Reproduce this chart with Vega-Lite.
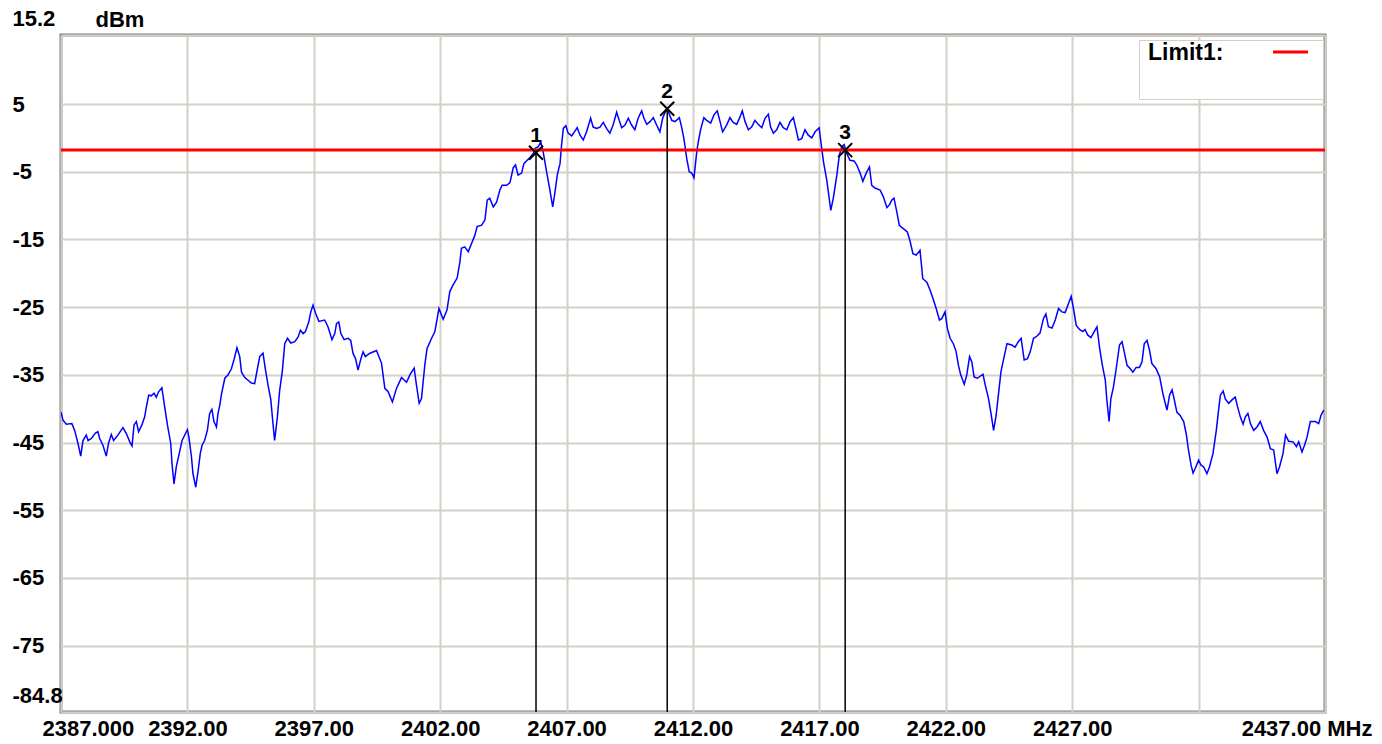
{
  "$schema": "https://vega.github.io/schema/vega-lite/v6.json",
  "width": 1264,
  "height": 677,
  "autosize": {"type": "none"},
  "padding": {"left": 61, "top": 35, "right": 57, "bottom": 32},
  "background": "#ffffff",
  "config": {
    "view": {"stroke": "#808080", "strokeWidth": 3},
    "font": "Liberation Sans"
  },
  "datasets": {
    "trace": [
      {"f":2387.00,"v":-40.5},{"f":2387.08,"v":-41.7},{"f":2387.21,"v":-42.3},{"f":2387.43,"v":-42.2},{"f":2387.54,"v":-43.2},{"f":2387.67,"v":-45.1},{"f":2387.78,"v":-47.0},{"f":2387.87,"v":-44.7},{"f":2388.00,"v":-43.9},{"f":2388.07,"v":-44.7},{"f":2388.20,"v":-44.4},{"f":2388.36,"v":-43.6},{"f":2388.46,"v":-43.4},{"f":2388.53,"v":-44.4},{"f":2388.66,"v":-45.4},{"f":2388.79,"v":-47.0},{"f":2388.88,"v":-45.1},{"f":2388.99,"v":-43.8},{"f":2389.08,"v":-44.7},{"f":2389.25,"v":-43.9},{"f":2389.45,"v":-42.8},{"f":2389.59,"v":-43.7},{"f":2389.72,"v":-44.9},{"f":2389.81,"v":-45.5},{"f":2389.89,"v":-42.4},{"f":2389.98,"v":-41.9},{"f":2390.07,"v":-43.4},{"f":2390.20,"v":-42.4},{"f":2390.31,"v":-41.2},{"f":2390.38,"v":-39.7},{"f":2390.47,"v":-38.0},{"f":2390.57,"v":-38.1},{"f":2390.68,"v":-37.7},{"f":2390.77,"v":-38.3},{"f":2390.86,"v":-37.5},{"f":2390.99,"v":-36.9},{"f":2391.10,"v":-39.7},{"f":2391.21,"v":-42.4},{"f":2391.34,"v":-45.1},{"f":2391.39,"v":-48.1},{"f":2391.47,"v":-51.1},{"f":2391.56,"v":-48.6},{"f":2391.66,"v":-46.9},{"f":2391.79,"v":-44.7},{"f":2391.92,"v":-43.7},{"f":2392.00,"v":-43.1},{"f":2392.06,"v":-44.2},{"f":2392.16,"v":-47.1},{"f":2392.22,"v":-49.6},{"f":2392.33,"v":-51.6},{"f":2392.42,"v":-49.3},{"f":2392.51,"v":-46.6},{"f":2392.58,"v":-45.4},{"f":2392.68,"v":-44.7},{"f":2392.79,"v":-43.2},{"f":2392.88,"v":-40.7},{"f":2392.97,"v":-40.1},{"f":2393.05,"v":-41.9},{"f":2393.15,"v":-42.7},{"f":2393.21,"v":-40.7},{"f":2393.28,"v":-39.5},{"f":2393.35,"v":-37.8},{"f":2393.48,"v":-35.5},{"f":2393.61,"v":-35.0},{"f":2393.74,"v":-34.1},{"f":2393.84,"v":-32.8},{"f":2393.96,"v":-31.0},{"f":2394.07,"v":-32.3},{"f":2394.14,"v":-34.6},{"f":2394.27,"v":-35.4},{"f":2394.40,"v":-35.8},{"f":2394.53,"v":-36.2},{"f":2394.66,"v":-36.3},{"f":2394.77,"v":-34.1},{"f":2394.86,"v":-32.3},{"f":2394.99,"v":-31.8},{"f":2395.09,"v":-34.3},{"f":2395.19,"v":-36.5},{"f":2395.30,"v":-38.7},{"f":2395.39,"v":-42.4},{"f":2395.45,"v":-44.7},{"f":2395.56,"v":-41.2},{"f":2395.65,"v":-37.3},{"f":2395.76,"v":-34.3},{"f":2395.85,"v":-30.4},{"f":2395.96,"v":-29.6},{"f":2396.09,"v":-30.3},{"f":2396.25,"v":-30.1},{"f":2396.38,"v":-29.4},{"f":2396.47,"v":-28.4},{"f":2396.58,"v":-28.9},{"f":2396.67,"v":-28.6},{"f":2396.80,"v":-27.2},{"f":2396.88,"v":-25.7},{"f":2396.97,"v":-24.7},{"f":2397.07,"v":-25.9},{"f":2397.20,"v":-27.1},{"f":2397.43,"v":-26.9},{"f":2397.56,"v":-27.9},{"f":2397.72,"v":-29.8},{"f":2397.83,"v":-28.9},{"f":2397.90,"v":-27.4},{"f":2397.99,"v":-27.2},{"f":2398.07,"v":-28.9},{"f":2398.20,"v":-29.8},{"f":2398.36,"v":-29.6},{"f":2398.46,"v":-29.9},{"f":2398.55,"v":-31.8},{"f":2398.65,"v":-32.6},{"f":2398.75,"v":-34.3},{"f":2398.85,"v":-32.8},{"f":2398.95,"v":-31.6},{"f":2399.04,"v":-32.3},
      {"f":2399.22,"v":-31.8},{"f":2399.48,"v":-31.4},{"f":2399.68,"v":-33.3},{"f":2399.81,"v":-37.0},{"f":2399.94,"v":-37.5},{"f":2400.11,"v":-39.0},{"f":2400.27,"v":-37.0},{"f":2400.47,"v":-35.4},{"f":2400.67,"v":-36.1},{"f":2400.80,"v":-35.0},{"f":2400.97,"v":-34.0},{"f":2401.06,"v":-36.5},{"f":2401.17,"v":-39.2},{"f":2401.26,"v":-38.5},{"f":2401.39,"v":-33.6},{"f":2401.48,"v":-31.1},{"f":2401.66,"v":-29.6},{"f":2401.79,"v":-28.6},{"f":2401.95,"v":-25.2},{"f":2402.12,"v":-26.8},{"f":2402.27,"v":-25.4},{"f":2402.38,"v":-22.7},{"f":2402.51,"v":-21.7},{"f":2402.67,"v":-20.7},{"f":2402.78,"v":-18.3},{"f":2402.84,"v":-16.3},{"f":2402.97,"v":-16.1},{"f":2403.11,"v":-16.8},{"f":2403.24,"v":-15.6},{"f":2403.37,"v":-14.4},{"f":2403.46,"v":-13.1},{"f":2403.64,"v":-12.9},{"f":2403.77,"v":-12.1},{"f":2403.86,"v":-9.2},{"f":2403.96,"v":-8.9},{"f":2404.10,"v":-10.2},{"f":2404.23,"v":-9.5},{"f":2404.36,"v":-7.7},{"f":2404.45,"v":-7.0},{"f":2404.63,"v":-7.0},{"f":2404.76,"v":-6.6},{"f":2404.89,"v":-4.4},{"f":2404.98,"v":-4.0},{"f":2405.08,"v":-5.5},{"f":2405.22,"v":-5.2},{"f":2405.31,"v":-3.8},{"f":2405.44,"v":-3.3},{"f":2405.55,"v":-2.9},{"f":2405.68,"v":-2.3},{"f":2405.77,"v":-1.5},{"f":2405.88,"v":-1.3},{"f":2405.98,"v":-0.6},{"f":2406.07,"v":-2.0},{"f":2406.21,"v":-5.0},{"f":2406.34,"v":-7.7},{"f":2406.45,"v":-10.2},{"f":2406.54,"v":-8.0},{"f":2406.63,"v":-5.5},{"f":2406.74,"v":-3.8},{"f":2406.80,"v":-1.1},{"f":2406.87,"v":1.4},{"f":2406.97,"v":1.8},{"f":2407.06,"v":0.7},{"f":2407.20,"v":0.3},{"f":2407.33,"v":1.0},{"f":2407.42,"v":1.5},{"f":2407.53,"v":0.4},{"f":2407.66,"v":-0.3},{"f":2407.79,"v":0.9},{"f":2407.95,"v":2.9},{"f":2408.05,"v":1.6},{"f":2408.19,"v":1.4},{"f":2408.32,"v":1.6},{"f":2408.45,"v":2.3},{"f":2408.58,"v":1.4},{"f":2408.71,"v":0.7},{"f":2408.84,"v":1.9},{"f":2408.98,"v":3.8},{"f":2409.08,"v":2.6},{"f":2409.18,"v":1.5},{"f":2409.31,"v":1.9},{"f":2409.44,"v":2.9},{"f":2409.57,"v":1.9},{"f":2409.70,"v":1.2},{"f":2409.83,"v":2.9},{"f":2409.97,"v":4.0},{"f":2410.06,"v":2.9},{"f":2410.17,"v":2.0},{"f":2410.30,"v":2.4},{"f":2410.43,"v":3.0},{"f":2410.56,"v":1.9},{"f":2410.69,"v":0.9},{"f":2410.80,"v":2.9},{"f":2410.93,"v":4.1},{"f":2411.02,"v":3.9},{"f":2411.16,"v":2.6},{"f":2411.29,"v":2.4},{"f":2411.46,"v":3.0},{"f":2411.55,"v":1.6},{"f":2411.64,"v":-0.1},{"f":2411.75,"v":-3.0},{"f":2411.85,"v":-5.0},{"f":2411.95,"v":-5.2},{"f":2412.04,"v":-5.9},{"f":2412.15,"v":-2.0},{"f":2412.21,"v":-0.6},{"f":2412.30,"v":1.2},{"f":2412.43,"v":3.0},
      {"f":2412.54,"v":2.6},{"f":2412.70,"v":2.2},{"f":2412.83,"v":3.4},{"f":2412.96,"v":4.0},{"f":2413.07,"v":2.4},{"f":2413.17,"v":0.9},{"f":2413.33,"v":1.9},{"f":2413.46,"v":3.0},{"f":2413.59,"v":2.3},{"f":2413.73,"v":2.0},{"f":2413.86,"v":3.1},{"f":2413.95,"v":4.0},{"f":2414.06,"v":2.4},{"f":2414.19,"v":1.2},{"f":2414.32,"v":1.6},{"f":2414.45,"v":2.6},{"f":2414.58,"v":2.0},{"f":2414.72,"v":1.5},{"f":2414.85,"v":2.9},{"f":2414.98,"v":3.5},{"f":2415.07,"v":1.6},{"f":2415.18,"v":0.7},{"f":2415.31,"v":1.2},{"f":2415.44,"v":2.3},{"f":2415.57,"v":1.5},{"f":2415.71,"v":1.2},{"f":2415.84,"v":2.4},{"f":2415.97,"v":3.0},{"f":2416.08,"v":1.2},{"f":2416.17,"v":-0.3},{"f":2416.30,"v":-0.1},{"f":2416.43,"v":1.2},{"f":2416.56,"v":0.4},{"f":2416.70,"v":0.0},{"f":2416.83,"v":0.9},{"f":2416.99,"v":1.5},{"f":2417.09,"v":-1.5},{"f":2417.16,"v":-3.5},{"f":2417.29,"v":-6.2},{"f":2417.45,"v":-10.7},{"f":2417.55,"v":-8.9},{"f":2417.69,"v":-5.5},{"f":2417.79,"v":-2.5},{"f":2417.89,"v":-1.3},{"f":2417.98,"v":-1.0},{"f":2418.08,"v":-2.3},{"f":2418.21,"v":-3.3},{"f":2418.37,"v":-3.4},{"f":2418.48,"v":-4.0},{"f":2418.61,"v":-5.2},{"f":2418.72,"v":-6.4},{"f":2418.85,"v":-5.2},{"f":2418.98,"v":-4.3},{"f":2419.07,"v":-7.0},{"f":2419.20,"v":-7.4},{"f":2419.40,"v":-7.7},{"f":2419.53,"v":-8.7},{"f":2419.67,"v":-10.3},{"f":2419.77,"v":-9.9},{"f":2419.86,"v":-9.2},{"f":2419.95,"v":-8.9},{"f":2420.06,"v":-10.9},{"f":2420.16,"v":-12.9},{"f":2420.32,"v":-13.4},{"f":2420.48,"v":-13.9},{"f":2420.59,"v":-15.3},{"f":2420.70,"v":-17.1},{"f":2420.83,"v":-17.3},{"f":2420.98,"v":-16.6},{"f":2421.09,"v":-20.8},{"f":2421.25,"v":-21.3},{"f":2421.38,"v":-22.5},{"f":2421.49,"v":-23.7},{"f":2421.62,"v":-25.2},{"f":2421.75,"v":-26.9},{"f":2421.84,"v":-26.7},{"f":2421.97,"v":-25.7},{"f":2422.06,"v":-28.1},{"f":2422.17,"v":-29.6},{"f":2422.30,"v":-30.4},{"f":2422.41,"v":-31.6},{"f":2422.50,"v":-33.6},{"f":2422.59,"v":-35.0},{"f":2422.73,"v":-36.4},{"f":2422.83,"v":-35.0},{"f":2422.94,"v":-32.3},{"f":2423.03,"v":-33.1},{"f":2423.12,"v":-35.3},{"f":2423.25,"v":-35.5},{"f":2423.47,"v":-34.9},{"f":2423.56,"v":-36.5},{"f":2423.69,"v":-38.5},{"f":2423.78,"v":-40.5},{"f":2423.89,"v":-43.2},{"f":2423.99,"v":-41.0},{"f":2424.08,"v":-38.0},{"f":2424.18,"v":-34.6},
      {"f":2424.28,"v":-32.8},{"f":2424.42,"v":-30.4},{"f":2424.61,"v":-30.6},{"f":2424.74,"v":-30.9},{"f":2424.87,"v":-30.1},{"f":2424.98,"v":-29.6},{"f":2425.10,"v":-32.8},{"f":2425.23,"v":-32.6},{"f":2425.34,"v":-31.6},{"f":2425.47,"v":-29.6},{"f":2425.60,"v":-29.3},{"f":2425.73,"v":-28.8},{"f":2425.86,"v":-26.7},{"f":2425.96,"v":-26.0},{"f":2426.06,"v":-27.9},{"f":2426.20,"v":-28.1},{"f":2426.33,"v":-26.9},{"f":2426.46,"v":-25.2},{"f":2426.59,"v":-25.7},{"f":2426.72,"v":-25.8},{"f":2426.85,"v":-24.5},{"f":2426.96,"v":-23.4},{"f":2427.05,"v":-25.2},{"f":2427.16,"v":-27.7},{"f":2427.29,"v":-28.3},{"f":2427.42,"v":-28.6},{"f":2427.51,"v":-28.3},{"f":2427.61,"v":-29.1},{"f":2427.74,"v":-29.5},{"f":2427.87,"v":-28.6},{"f":2427.98,"v":-27.9},{"f":2428.08,"v":-30.9},{"f":2428.18,"v":-33.3},{"f":2428.31,"v":-35.8},{"f":2428.37,"v":-38.7},{"f":2428.46,"v":-41.9},{"f":2428.53,"v":-38.5},{"f":2428.63,"v":-36.8},{"f":2428.74,"v":-34.1},{"f":2428.87,"v":-30.6},{"f":2428.97,"v":-30.1},{"f":2429.06,"v":-31.6},{"f":2429.17,"v":-33.6},{"f":2429.30,"v":-34.1},{"f":2429.40,"v":-34.6},{"f":2429.53,"v":-33.9},{"f":2429.66,"v":-33.9},{"f":2429.76,"v":-33.1},{"f":2429.85,"v":-30.4},{"f":2429.96,"v":-29.9},{"f":2430.06,"v":-31.4},{"f":2430.15,"v":-33.3},{"f":2430.32,"v":-34.1},{"f":2430.46,"v":-35.3},{"f":2430.59,"v":-37.8},{"f":2430.68,"v":-39.2},{"f":2430.75,"v":-40.2},{"f":2430.85,"v":-38.0},{"f":2430.95,"v":-37.2},{"f":2431.04,"v":-38.7},{"f":2431.14,"v":-40.5},{"f":2431.27,"v":-41.0},{"f":2431.41,"v":-41.9},{"f":2431.51,"v":-43.7},{"f":2431.60,"v":-46.1},{"f":2431.70,"v":-48.3},{"f":2431.78,"v":-49.5},{"f":2431.87,"v":-48.8},{"f":2432.00,"v":-47.6},{"f":2432.09,"v":-48.3},{"f":2432.20,"v":-48.6},{"f":2432.33,"v":-49.6},{"f":2432.43,"v":-48.6},{"f":2432.57,"v":-46.6},{"f":2432.70,"v":-43.2},{"f":2432.79,"v":-40.2},{"f":2432.86,"v":-38.0},{"f":2432.97,"v":-37.4},{"f":2433.06,"v":-38.6},{"f":2433.19,"v":-39.2},{"f":2433.32,"v":-38.7},{"f":2433.45,"v":-38.3},{"f":2433.54,"v":-39.7},{"f":2433.65,"v":-41.2},{"f":2433.76,"v":-42.3},{"f":2433.85,"v":-41.2},{"f":2433.95,"v":-40.7},{"f":2434.05,"v":-42.2},{"f":2434.18,"v":-43.2},{"f":2434.31,"v":-42.7},{"f":2434.44,"v":-41.9},{"f":2434.57,"v":-43.2},{"f":2434.71,"v":-44.2},{"f":2434.84,"v":-45.9},{"f":2434.97,"v":-46.1},{"f":2435.10,"v":-49.6},{"f":2435.20,"v":-48.6},{"f":2435.34,"v":-46.6},{"f":2435.44,"v":-43.9},{"f":2435.56,"v":-44.8},{"f":2435.74,"v":-44.9},{"f":2435.87,"v":-45.6},{"f":2435.96,"v":-44.9},{"f":2436.09,"v":-46.4},{"f":2436.19,"v":-45.4},{"f":2436.29,"v":-44.2},{"f":2436.42,"v":-41.9},{"f":2436.62,"v":-41.9},{"f":2436.75,"v":-42.2},{"f":2436.84,"v":-41.0},{"f":2436.95,"v":-40.2}
    ],
    "limits": [{"name": "Limit1", "v": -1.8}],
    "markers": [
      {"id": "1", "f": 2405.79, "v": -2.2},
      {"id": "2", "f": 2410.98, "v": 4.3},
      {"id": "3", "f": 2418.02, "v": -1.8}
    ]
  },
  "layer": [
    {
      "data": {"name": "trace"},
      "mark": {"type": "line", "color": "#0000ff", "strokeWidth": 1.5, "clip": true},
      "encoding": {
        "x": {
          "field": "f", "type": "quantitative",
          "scale": {"domain": [2387, 2437], "nice": false, "zero": false},
          "axis": {
            "title": null,
            "values": [2387, 2392, 2397, 2402, 2407, 2412, 2417, 2422, 2427, 2432, 2437],
            "labelExpr": "datum.value == 2387 ? '2387.000' : datum.value == 2437 ? '2437.00 MHz' : datum.value == 2432 ? '' : format(datum.value, '.2f')",
            "labelFlush": true,
            "labelFlushOffset": 19,
            "labelOffset": {"condition": {"test": "datum.value == 2437", "value": 28}, "value": 0},
            "labelOverlap": false,
            "labelBound": false,
            "labelPadding": 16,
            "labelBaseline": "middle",
            "labelFont": "Liberation Sans",
            "labelFontSize": 22,
            "labelFontWeight": "bold",
            "labelColor": "#000000",
            "ticks": false,
            "domain": false,
            "grid": true,
            "gridColor": "#d4d0c8",
            "gridWidth": 2
          }
        },
        "y": {
          "field": "v", "type": "quantitative",
          "scale": {"domain": [-84.8, 15.2], "nice": false, "zero": false},
          "axis": {
            "title": "dBm",
            "titleAngle": 0,
            "titleAlign": "left",
            "titleBaseline": "middle",
            "titleX": 34,
            "titleY": -16,
            "titleFont": "Liberation Sans",
            "titleFontSize": 22,
            "titleFontWeight": "bold",
            "titleColor": "#000000",
            "values": [15.2, 5, -5, -15, -25, -35, -45, -55, -65, -75, -84.8],
            "labelExpr": "'' + datum.value",
            "labelAlign": "left",
            "labelBaseline": "middle",
            "labelPadding": 49,
            "labelOffset": {"condition": {"test": "datum.value > 15 || datum.value < -84", "value": -17}, "value": 0},
            "labelFlush": false,
            "labelOverlap": false,
            "labelBound": false,
            "labelFont": "Liberation Sans",
            "labelFontSize": 22,
            "labelFontWeight": "bold",
            "labelColor": "#000000",
            "ticks": false,
            "domain": false,
            "grid": true,
            "gridColor": "#d4d0c8",
            "gridWidth": 2
          }
        }
      }
    },
    {
      "data": {"name": "limits"},
      "mark": {"type": "rule", "strokeWidth": 3},
      "encoding": {
        "y": {"field": "v", "type": "quantitative"},
        "color": {
          "field": "name", "type": "nominal",
          "scale": {"domain": ["Limit1"], "range": ["#ff0000"]},
          "legend": {
            "orient": "none",
            "legendX": 1078,
            "legendY": 5,
            "title": ["Limit1:", " "],
            "titleOrient": "left",
            "titleBaseline": "top",
            "titleFont": "Liberation Sans",
            "titleFontSize": 23,
            "titleFontWeight": "bold",
            "titleColor": "#000000",
            "titlePadding": 56,
            "symbolType": "M-2,-0.85H2",
            "symbolSize": 306,
            "symbolStrokeWidth": 3,
            "labelExpr": "''",
            "labelFontSize": 1,
            "labelOffset": -10,
            "padding": 9,
            "fillColor": "#ffffff",
            "strokeColor": "#d4d0c8"
          }
        }
      }
    },
    {
      "data": {"name": "markers"},
      "mark": {"type": "rule", "color": "#000000", "strokeWidth": 1.5},
      "encoding": {
        "x": {"field": "f", "type": "quantitative"},
        "y": {"field": "v", "type": "quantitative"},
        "y2": {"datum": -84.8}
      }
    },
    {
      "data": {"name": "markers"},
      "mark": {"type": "point", "shape": "M-1,-1L1,1M1,-1L-1,1", "size": 196, "filled": false, "stroke": "#000000", "strokeWidth": 2, "opacity": 1},
      "encoding": {
        "x": {"field": "f", "type": "quantitative"},
        "y": {"field": "v", "type": "quantitative"}
      }
    },
    {
      "data": {"name": "markers"},
      "mark": {"type": "text", "dy": -17, "font": "Liberation Sans", "fontSize": 21, "fontWeight": "bold", "color": "#000000", "baseline": "middle", "align": "center"},
      "encoding": {
        "x": {"field": "f", "type": "quantitative"},
        "y": {"field": "v", "type": "quantitative"},
        "text": {"field": "id"}
      }
    }
  ]
}
